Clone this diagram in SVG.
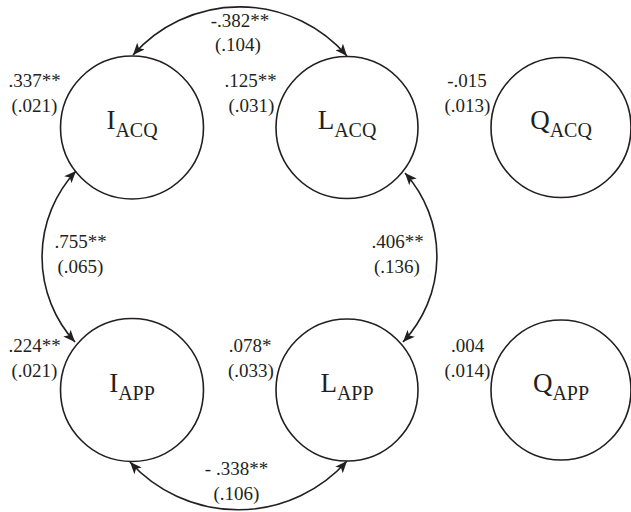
<svg xmlns="http://www.w3.org/2000/svg" width="631" height="512" viewBox="0 0 631 512">
<style>
.node{fill:none;stroke:#231f20;stroke-width:1.6}
.lbl{font-family:"Liberation Serif","Times New Roman",serif;fill:#231f20;text-anchor:middle}
.big{font-size:27px}
.sub{font-size:20px}
.num{font-family:"Liberation Serif","Times New Roman",serif;font-size:19px;fill:#231f20;text-anchor:middle}
.conn{fill:none;stroke:#231f20;stroke-width:1.6;marker-start:url(#ah);marker-end:url(#ah)}
</style>
<defs>
<marker id="ah" viewBox="0 0 12 10" refX="12" refY="5" markerWidth="12" markerHeight="10" markerUnits="userSpaceOnUse" orient="auto-start-reverse">
<path d="M0,0 L12,5 L0,10 L3,5 Z" fill="#231f20"/>
</marker>
</defs>
<rect width="631" height="512" fill="#fff"/>

<g id="connectors">
<path class="conn" d="M76,171 A126,126 0 0 0 75,342"/>
<path class="conn" d="M405,173 A125,125 0 0 1 403,342"/>
<path class="conn" d="M133,55 A142,142 0 0 1 347,56"/>
<path class="conn" d="M130,462 A146,146 0 0 0 347,461"/>
</g>

<g id="I_ACQ">
<circle class="node" cx="132" cy="127.5" r="71.5"/>
<text class="lbl" x="132" y="129"><tspan class="big">I</tspan><tspan class="sub" dy="8">ACQ</tspan></text>
</g>
<g id="L_ACQ">
<circle class="node" cx="347" cy="127.5" r="71"/>
<text class="lbl" x="347" y="129"><tspan class="big">L</tspan><tspan class="sub" dy="8">ACQ</tspan></text>
</g>
<g id="Q_ACQ">
<circle class="node" cx="561" cy="127.5" r="70"/>
<text class="lbl" x="561" y="129"><tspan class="big">Q</tspan><tspan class="sub" dy="8">ACQ</tspan></text>
</g>
<g id="I_APP">
<circle class="node" cx="132" cy="390" r="71.5"/>
<text class="lbl" x="132" y="392"><tspan class="big">I</tspan><tspan class="sub" dy="8">APP</tspan></text>
</g>
<g id="L_APP">
<circle class="node" cx="347" cy="390" r="71"/>
<text class="lbl" x="347" y="392"><tspan class="big">L</tspan><tspan class="sub" dy="8">APP</tspan></text>
</g>
<g id="Q_APP">
<circle class="node" cx="561" cy="390" r="70"/>
<text class="lbl" x="561" y="392"><tspan class="big">Q</tspan><tspan class="sub" dy="8">APP</tspan></text>
</g>

<g id="labels">
<text class="num" x="34.5" y="87">.337**</text>
<text class="num" x="34.5" y="112">(.021)</text>
<text class="num" x="250.5" y="87">.125**</text>
<text class="num" x="251.5" y="112">(.031)</text>
<text class="num" x="467" y="87">-.015</text>
<text class="num" x="467.5" y="112">(.013)</text>
<text class="num" x="240" y="27">-.382**</text>
<text class="num" x="238" y="51">(.104)</text>
<text class="num" x="80.5" y="248">.755**</text>
<text class="num" x="80.5" y="273">(.065)</text>
<text class="num" x="397.5" y="248">.406**</text>
<text class="num" x="397" y="273">(.136)</text>
<text class="num" x="34.5" y="352">.224**</text>
<text class="num" x="34.5" y="377">(.021)</text>
<text class="num" x="250" y="352">.078*</text>
<text class="num" x="251" y="377">(.033)</text>
<text class="num" x="467.5" y="352">.004</text>
<text class="num" x="467.5" y="377">(.014)</text>
<text class="num" x="236.5" y="475">- .338**</text>
<text class="num" x="236.5" y="500">(.106)</text>
</g>
</svg>
